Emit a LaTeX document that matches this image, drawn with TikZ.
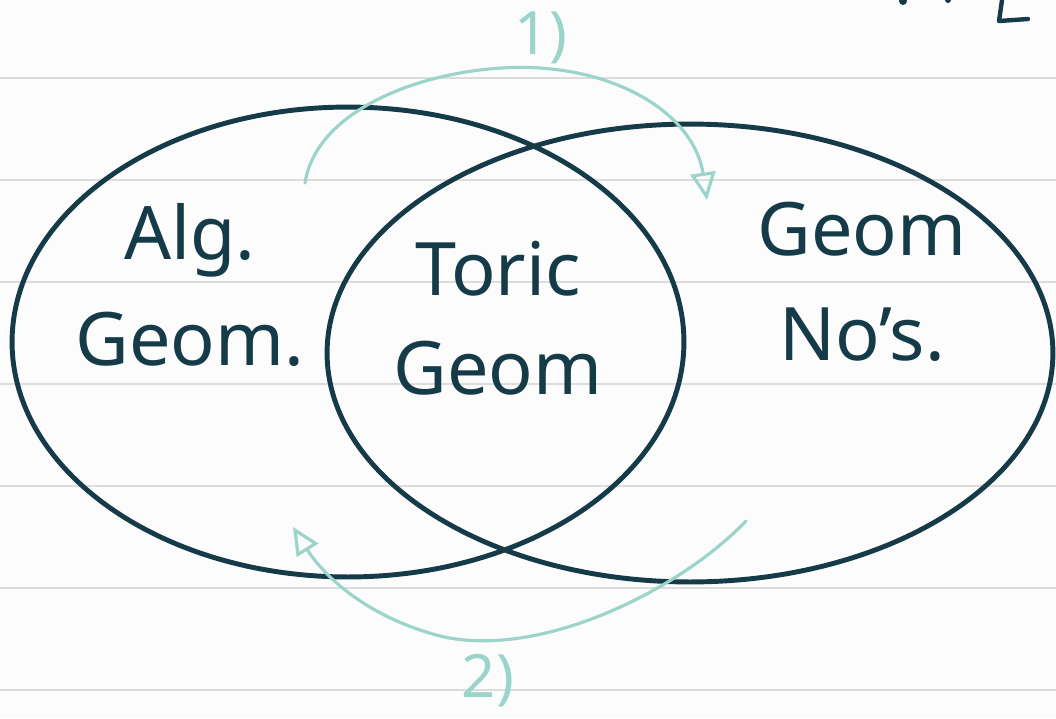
\documentclass[tikz,border=0pt]{standalone}
\usepackage{fontspec}
\setmainfont{Noto Sans}
\usepackage{tikz}
\usetikzlibrary{arrows.meta,positioning,shapes.geometric}
\definecolor{inkNavy}{HTML}{153A48}
\definecolor{inkTeal}{HTML}{9BD4C8}
\definecolor{ruleGray}{HTML}{DCDCDC}
\definecolor{paperBg}{HTML}{FCFCFC}
\tikzset{
  conjunto/.style={draw=inkNavy, line width=2.8pt, ellipse, inner sep=0pt},
  rotulo/.style={text=inkNavy, align=center, font=\fontsize{42}{60}\selectfont},
  flecha/.style={draw=inkTeal, line width=1.8pt, line cap=round, -{Triangle[open,length=5.5mm,width=5mm]}},
  paso/.style={text=inkTeal, font=\fontsize{34}{40}\selectfont},
  renglon/.style={draw=ruleGray, line width=1pt},
}
\begin{document}
\begin{tikzpicture}[x=0.02cm, y=-0.02cm]
% Hoja rayada
\fill[paperBg] (0,0) rectangle (1056,718);
\useasboundingbox (0,0) rectangle (1056,718);
\foreach \yy in {78,180,...,690}
  \draw[renglon] (0,\yy) -- (1056,\yy);

% Restos de escritura arriba a la derecha
\fill[inkNavy] (903,1) circle (4);
\fill[inkNavy] (948,0) circle (3);
\draw[inkNavy, line width=2.5pt, line cap=round, line join=round] (1002,0) -- (999,21) -- (1028,19);

% Conjuntos
\node[conjunto, minimum width=13.44cm, minimum height=9.4cm] (alg) at (348,342) {};
\node[conjunto, minimum width=14.52cm, minimum height=9.16cm] (num) at (690,353) {};

\node[rotulo] (algtxt) at (190,285) {Alg.\\Geom.};
\node[rotulo] (torica) at (498,318) {Toric\\[-4pt]Geom};
\node[rotulo] (numtxt) at (862,282) {Geom\\No's.};

% Flechas
\coordinate (s1) at (305,183);
\coordinate (cima1) at (540,68);
\coordinate (e1) at (707,200);
\draw[flecha] (s1) .. controls (318,100) and (450,62) .. (cima1) .. controls (630,74) and (695,120) .. (e1);
\node[paso] (uno) at (541,38) {1)};

\coordinate (s2) at (746,521);
\coordinate (fondo2) at (440,636);
\coordinate (e2) at (293,527);
\draw[flecha] (s2) .. controls (680,590) and (540,660) .. (fondo2) .. controls (360,615) and (320,570) .. (e2);
\node[paso] (dos) at (488,681) {2)};
\end{tikzpicture}
\end{document}
